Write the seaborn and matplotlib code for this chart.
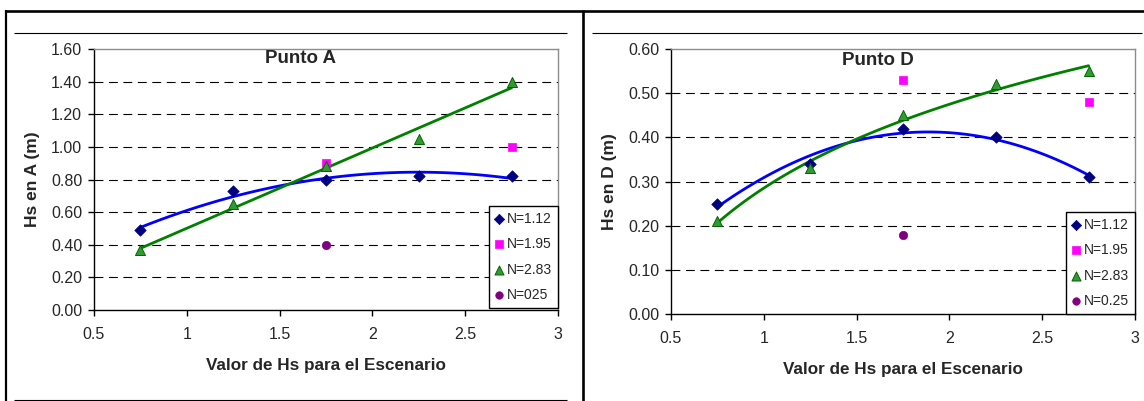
import numpy as np
import pandas as pd
import matplotlib
matplotlib.use("Agg")
import matplotlib.pyplot as plt
from matplotlib.lines import Line2D
import seaborn as sns

# ---------------- data ----------------
x_all = [0.75, 1.25, 1.75, 2.25, 2.75]
x_195 = [1.75, 2.75]
x_025 = [1.75]

# Punto A
a_112 = [0.49, 0.73, 0.80, 0.82, 0.82]
a_195 = [0.90, 1.00]
a_283 = [0.37, 0.65, 0.88, 1.05, 1.40]
a_025 = [0.40]

# Punto D
d_112 = [0.25, 0.34, 0.42, 0.40, 0.31]
d_195 = [0.53, 0.48]
d_283 = [0.21, 0.33, 0.45, 0.52, 0.55]
d_025 = [0.18]

titles = ["Punto A", "Punto D"]
ylabels = ["Hs en A (m)", "Hs en D (m)"]
xlabel = "Valor de Hs para el Escenario"
labels_A = ["N=1.12", "N=1.95", "N=2.83", "N=025"]
labels_D = ["N=1.12", "N=1.95", "N=2.83", "N=0.25"]
xticks = [0.5, 1, 1.5, 2, 2.5, 3]
yticks_A = [0.0, 0.2, 0.4, 0.6, 0.8, 1.0, 1.2, 1.4, 1.6]
yticks_D = [0.0, 0.1, 0.2, 0.3, 0.4, 0.5, 0.6]

# trendline types (as in the spreadsheet): blue = poly 2, green A = linear, green D = log
trend_A = ("poly2", "linear")
trend_D = ("poly2", "log")

# ---------------- style ----------------
sns.set_theme(style="white")
plt.rcParams["font.family"] = ["Liberation Sans", "DejaVu Sans"]

W, H = 1144, 401
fig = plt.figure(figsize=(W / 100, H / 100), dpi=100)


def fx(px):
    return px / W


def fy(py):
    return 1 - py / H


ax_A = fig.add_axes([fx(94), fy(310), fx(558) - fx(94), fy(49) - fy(310)])
ax_D = fig.add_axes([fx(671), fy(314), fx(1135) - fx(671), fy(49) - fy(314)])

C_NAVY = "#000080"
C_MAG = "#FF00FF"
C_GREEN_F = "#339933"
C_GREEN_E = "#006600"
C_PURP = "#800080"
C_BLUE_L = "#0000FF"
C_GREEN_L = "#008000"


def trend(xv, yv, kind, xs):
    xv = np.asarray(xv, float)
    if kind == "poly2":
        return np.polyval(np.polyfit(xv, yv, 2), xs)
    if kind == "linear":
        return np.polyval(np.polyfit(xv, yv, 1), xs)
    c = np.polyfit(np.log(xv), yv, 1)
    return c[0] * np.log(xs) + c[1]


def draw(ax, s112, s195, s283, s025, labels, yticks, title, ylabel, title_y,
         leg_top, kinds):
    xs = np.linspace(x_all[0], x_all[-1], 120)
    p1 = trend(x_all, s112, kinds[0], xs)
    p3 = trend(x_all, s283, kinds[1], xs)
    sns.lineplot(x=xs, y=p1, ax=ax, color=C_BLUE_L, lw=2.0, zorder=3)
    sns.lineplot(x=xs, y=p3, ax=ax, color=C_GREEN_L, lw=2.0, zorder=3)

    sns.scatterplot(x=x_all, y=s112, ax=ax, marker="D", s=34, color=C_NAVY,
                    edgecolor=C_NAVY, linewidth=0.5, label=labels[0], zorder=4)
    sns.scatterplot(x=x_195, y=s195, ax=ax, marker="s", s=38, color=C_MAG,
                    edgecolor=C_MAG, linewidth=0.5, label=labels[1], zorder=4)
    sns.scatterplot(x=x_all, y=s283, ax=ax, marker="^", s=52, color=C_GREEN_F,
                    edgecolor=C_GREEN_E, linewidth=0.7, label=labels[2], zorder=4)
    sns.scatterplot(x=x_025, y=s025, ax=ax, marker="o", s=36, color=C_PURP,
                    edgecolor=C_PURP, linewidth=0.5, label=labels[3], zorder=4)

    ax.set_xlim(0.5, 3)
    ax.set_ylim(yticks[0], yticks[-1])
    ax.set_xticks(xticks)
    ax.set_xticklabels([f"{t:g}" for t in xticks])
    ax.set_yticks(yticks)
    ax.set_yticklabels([f"{t:.2f}" for t in yticks])

    for t in yticks[1:-1]:
        ax.axhline(t, color="black", lw=0.8, ls=(0, (8, 5)), zorder=1)

    for side in ["left", "bottom"]:
        ax.spines[side].set_color("black")
        ax.spines[side].set_linewidth(1.0)
    for side in ["top", "right"]:
        ax.spines[side].set_color("#8c8c8c")
        ax.spines[side].set_linewidth(1.0)

    ax.tick_params(axis="both", which="major", direction="out", length=4,
                   width=1.0, color="black", labelsize=11.5,
                   bottom=True, left=True)
    ax.tick_params(axis="x", pad=8.5)
    ax.tick_params(axis="y", pad=4.5)

    ax.set_xlabel(xlabel, fontsize=12.3, fontweight="bold", labelpad=11)
    ax.set_ylabel(ylabel, fontsize=12.5, fontweight="bold", labelpad=8)
    ax.text(0.445, title_y, title, transform=ax.transAxes, ha="center",
            va="center", fontsize=13.5, fontweight="bold")

    leg = ax.legend(loc="upper right", bbox_to_anchor=(1.0, leg_top),
                    frameon=True, fancybox=False, edgecolor="black",
                    fontsize=10, handlelength=0.6, handletextpad=0.3,
                    labelspacing=0.83, borderpad=0.4, borderaxespad=0.0,
                    markerscale=0.9)
    leg.get_frame().set_linewidth(1.0)
    leg.get_frame().set_alpha(1.0)


draw(ax_A, a_112, a_195, a_283, a_025, labels_A, yticks_A, titles[0],
     ylabels[0], 0.965, (310 - 206) / (310 - 49), trend_A)
draw(ax_D, d_112, d_195, d_283, d_025, labels_D, yticks_D, titles[1],
     ylabels[1], 0.958, (314 - 212) / (314 - 49), trend_D)

# ---------------- page / table borders ----------------
def hline(y, x0, x1, lw):
    fig.add_artist(Line2D([fx(x0), fx(x1)], [fy(y), fy(y)], color="black",
                          lw=lw, transform=fig.transFigure, solid_capstyle="butt"))


def vline(x, y0, y1, lw):
    fig.add_artist(Line2D([fx(x), fx(x)], [fy(y0), fy(y1)], color="black",
                          lw=lw, transform=fig.transFigure, solid_capstyle="butt"))


hline(11, 5, 1144, 1.9)
vline(6, 10, 401, 1.6)
vline(583, 10, 401, 1.9)
hline(33, 14, 567, 0.8)
hline(33, 592, 1142, 0.8)
hline(399.5, 14, 567, 0.8)

fig.savefig("out.png", dpi=100)
